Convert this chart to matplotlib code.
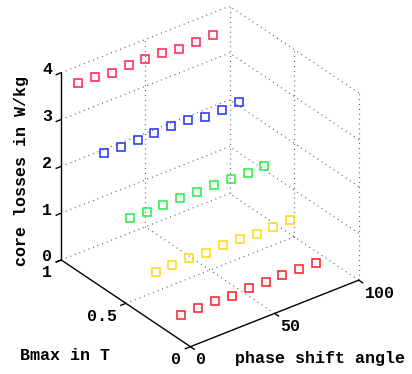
import matplotlib
matplotlib.use('Agg')
import matplotlib.pyplot as plt
import numpy as np
from mpl_toolkits.mplot3d import proj3d

plt.rcParams['font.family'] = ['Liberation Mono', 'DejaVu Sans Mono']
plt.rcParams['font.weight'] = 'bold'

# phase shift angle (x) and Bmax (y)
phase = [10, 20, 30, 40, 50, 60, 70, 80, 90]
bmax = [0.2, 0.4, 0.6, 0.8, 1.0]
# core losses (W/kg), one row per Bmax
loss_b02 = [0.17, 0.17, 0.17, 0.15, 0.17, 0.15, 0.16, 0.15, 0.14]
loss_b04 = [0.72, 0.72, 0.72, 0.70, 0.71, 0.70, 0.68, 0.68, 0.69]
loss_b06 = [1.50, 1.48, 1.49, 1.49, 1.49, 1.49, 1.47, 1.46, 1.47]
loss_b08 = [2.52, 2.50, 2.50, 2.51, 2.52, 2.51, 2.43, 2.44, 2.46]
loss_b10 = [3.63, 3.63, 3.57, 3.60, 3.59, 3.57, 3.52, 3.52, 3.52]
losses = [loss_b02, loss_b04, loss_b06, loss_b08, loss_b10]
colors = ['#ff1a1a', '#ffd814', '#22f040', '#2030f0', '#ff1f4f']

xticks = [0, 50, 100]
yticks = [0, 0.5, 1]
zticks = [0, 1, 2, 3, 4]
xtick_labels = ['0', '50', '100']
ytick_labels = ['0', '0.5', '1']
ztick_labels = ['0', '1', '2', '3', '4']

W, H = 412, 374
fig = plt.figure(figsize=(W / 100, H / 100), dpi=100)
ax = fig.add_axes([0, 0, 1, 1], projection='3d', proj_type='ortho')
ax.view_init(elev=31, azim=-127.5)
ax.set_box_aspect((1, 1, 1.03))
x0, x1 = xticks[0], xticks[-1]
y0, y1 = yticks[0], yticks[-1]
z0, z1 = zticks[0], zticks[-1]
ax.set_xlim(x0, x1)
ax.set_ylim(y0, y1)
ax.set_zlim(z0, z1)
ax.set_axis_off()

# dotted grid (matlab style), floor + two back walls
dot = dict(color='0.3', lw=0.9, dashes=(0.7, 3.2))
for yv in yticks[1:]:
    ax.plot([x0, x1], [yv, yv], [z0, z0], **dot)
for xv in xticks[1:]:
    ax.plot([xv, xv], [y0, y1], [z0, z0], **dot)
for zv in zticks[1:]:
    ax.plot([x0, x1], [y1, y1], [zv, zv], **dot)
for xv in xticks[1:]:
    ax.plot([xv, xv], [y1, y1], [z0, z1], **dot)
for zv in zticks[1:]:
    ax.plot([x1, x1], [y0, y1], [zv, zv], **dot)
for yv in yticks[:-1]:
    ax.plot([x1, x1], [yv, yv], [z0, z1], **dot)

# axis lines
ax.plot([x0, x1], [y0, y0], [z0, z0], color='k', lw=1)
ax.plot([x0, x0], [y0, y1], [z0, z0], color='k', lw=1)
ax.plot([x0, x0], [y1, y1], [z0, z1], color='k', lw=1)
# tick marks
for xv in xticks:
    ax.plot([xv, xv], [y0, y0 - 0.03], [z0, z0], color='k', lw=1)
for yv in yticks:
    ax.plot([x0, x0 - 3], [yv, yv], [z0, z0], color='k', lw=1)
for zv in zticks:
    ax.plot([x0, x0 - 3], [y1, y1], [zv, zv], color='k', lw=1)

# data
for b, loss, c in zip(bmax, losses, colors):
    ax.plot(phase, [b] * len(phase), loss, ls='none', marker='s', ms=6.2,
            mfc='none', mec=c, mew=1.1)


def to_px(x, y, z):
    xs, ys, _ = proj3d.proj_transform(x, y, z, ax.get_proj())
    return ax.transData.transform((xs, ys))


# fit the box into place (corner pixel spots of the reference layout)
fig.canvas.draw()
corners = [(x0, y1, z0), (x1, y0, z0), (x0, y0, z0), (x1, y1, z1)]
targets = [(62, 260), (359, 280), (190, 347), (229, 6)]
pos = ax.get_position()
S0 = pos.width * W
C0 = np.array([(pos.x0 + pos.width / 2) * W, (pos.y0 + pos.height / 2) * H])
A, rhs = [], []
for c, t in zip(corners, targets):
    u = (to_px(*c) - C0) / S0
    A.append([u[0], 1, 0])
    rhs.append(t[0])
    A.append([u[1], 0, 1])
    rhs.append(H - t[1])
S, cx, cy = np.linalg.lstsq(np.array(A), np.array(rhs), rcond=None)[0]
ax.set_position([(cx - S / 2) / W, (cy - S / 2) / H, S / W, S / H])
fig.canvas.draw()

fs = 12
for zv, lab in zip(zticks, ztick_labels):
    p = to_px(x0, y1, zv)
    fig.text((p[0] - 14) / W, (p[1] + 3) / H, lab, ha='center', va='center', fontsize=fs)
for yv, lab in zip(yticks, ytick_labels):
    p = to_px(x0, yv, z0)
    fig.text((p[0] - 9) / W, (p[1] - 13) / H, lab, ha='right', va='center', fontsize=fs)
for xv, lab in zip(xticks, xtick_labels):
    p = to_px(xv, y0, z0)
    fig.text((p[0] + 6) / W, (p[1] - 13) / H, lab, ha='left', va='center', fontsize=fs)

fig.text(320 / W, 1 - 358 / H, 'phase shift angle', ha='center', va='center', fontsize=fs)
fig.text(65 / W, 1 - 355 / H, 'Bmax in T', ha='center', va='center', fontsize=fs)
fig.text(22 / W, 1 - 171 / H, 'core losses in W/kg', ha='center', va='center',
         rotation=90, fontsize=fs)

fig.savefig('out.png', dpi=100)
